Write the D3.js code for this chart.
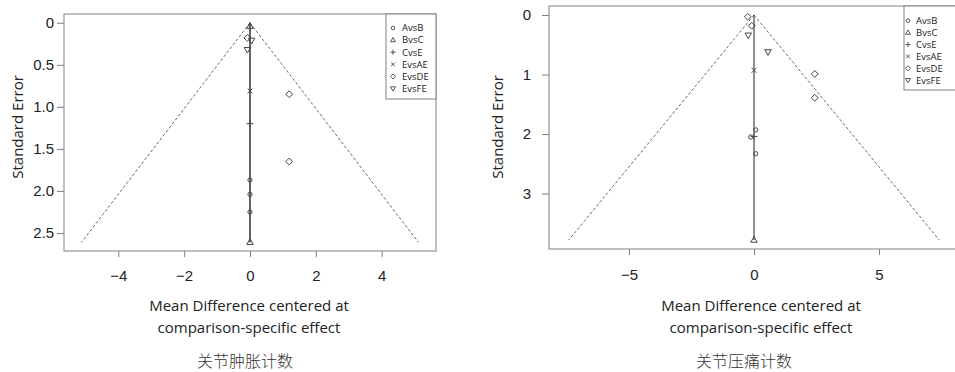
<!DOCTYPE html>
<html>
<head>
<meta charset="utf-8">
<script src="https://cdn.jsdelivr.net/npm/d3@7"></script>
<style>
  body { margin: 0; background: #fff; }
  svg { display: block; font-family: "Open Sans", "Noto Sans", sans-serif; }
</style>
</head>
<body>
<div id="chart"></div>
<script>
// comparisons shown in the legend, in order
const comparisons = ["AvsB", "BvsC", "CvsE", "EvsAE", "EvsDE", "EvsFE"];

// [comparison, centered mean difference, standard error]
const swellingPoints = [
  ["AvsB", 0, 1.87], ["AvsB", 0, 2.04], ["AvsB", 0, 2.25],
  ["BvsC", 0, 2.61], ["BvsC", 0, 0.04],
  ["CvsE", 0, 1.2],
  ["EvsAE", 0, 0.81],
  ["EvsDE", -0.08, 0.18], ["EvsDE", 1.19, 0.85], ["EvsDE", 1.19, 1.65],
  ["EvsFE", 0.05, 0.21], ["EvsFE", -0.08, 0.32]
];
const tendernessPoints = [
  ["AvsB", 0.07, 1.93], ["AvsB", -0.13, 2.05], ["AvsB", 0.07, 2.33],
  ["BvsC", 0, 3.78],
  ["CvsE", 0, 2.04],
  ["EvsAE", 0, 0.93],
  ["EvsDE", -0.25, 0.03], ["EvsDE", -0.09, 0.18], ["EvsDE", 2.43, 0.99], ["EvsDE", 2.43, 1.39],
  ["EvsFE", -0.23, 0.34], ["EvsFE", 0.56, 0.62]
];

const swellingXTicks = [-4, -2, 0, 2, 4];
const swellingYTicks = [0, 0.5, 1, 1.5, 2, 2.5];
const tendernessXTicks = [-5, 0, 5];
const tendernessYTicks = [0, 1, 2, 3];

const xLabel = ["Mean Difference centered at", "comparison-specific effect"];
const yLabel = "Standard Error";
const swellingTitle = "关节肿胀计数";
const tendernessTitle = "关节压痛计数";

const width = 955, height = 372;
const boxColor = "#808080", markColor = "#444", textColor = "#222";

const svg = d3.select("#chart").append("svg")
  .attr("width", width)
  .attr("height", height);

// pch-like marker paths
const shape = (type, r) => {
  const p = d3.path();
  if (type === "AvsB") {
    p.moveTo(r * 0.7, 0); p.arc(0, 0, r * 0.7, 0, 2 * Math.PI);
  } else if (type === "BvsC") {
    p.moveTo(0, -r); p.lineTo(r * 0.95, r * 0.65); p.lineTo(-r * 0.95, r * 0.65); p.closePath();
  } else if (type === "CvsE") {
    p.moveTo(-r, 0); p.lineTo(r, 0); p.moveTo(0, -r); p.lineTo(0, r);
  } else if (type === "EvsAE") {
    const s = r * 0.7;
    p.moveTo(-s, -s); p.lineTo(s, s); p.moveTo(-s, s); p.lineTo(s, -s);
  } else if (type === "EvsDE") {
    p.moveTo(0, -r); p.lineTo(r, 0); p.lineTo(0, r); p.lineTo(-r, 0); p.closePath();
  } else {
    p.moveTo(0, r); p.lineTo(r * 0.95, -r * 0.65); p.lineTo(-r * 0.95, -r * 0.65); p.closePath();
  }
  return p.toString();
};

const drawFunnel = (cfg, points, xTicks, yTicks, yFmt, title) => {
  const g = svg.append("g");
  const seMax = d3.max(points, (d) => d[2]);

  const x = d3.scaleLinear().domain(cfg.xDomain).range([cfg.left, cfg.right]);
  const y = d3.scaleLinear().domain([-0.04 * seMax, 1.04 * seMax]).range([cfg.top, cfg.bottom]);

  // frame
  g.append("rect")
    .attr("x", cfg.left).attr("y", cfg.top)
    .attr("width", cfg.right - cfg.left).attr("height", cfg.bottom - cfg.top)
    .attr("fill", "none").attr("stroke", boxColor).attr("stroke-width", 1);

  // funnel
  [-1.96, 1.96].forEach((z) => {
    g.append("line")
      .attr("x1", x(0)).attr("y1", y(0))
      .attr("x2", x(z * seMax)).attr("y2", y(seMax))
      .attr("stroke", "#444").attr("stroke-width", 0.8)
      .attr("stroke-dasharray", "3,2");
  });
  g.append("line")
    .attr("x1", x(0)).attr("y1", y(0))
    .attr("x2", x(0)).attr("y2", y(seMax))
    .attr("stroke", "#222").attr("stroke-width", cfg.lineW);

  // points
  g.selectAll(".pt")
    .data(points)
    .join("path")
    .attr("class", "pt")
    .attr("transform", (d) => `translate(${x(d[1])},${y(d[2])})`)
    .attr("d", (d) => shape(d[0], d[0] === "AvsB" ? 3 : 3.4))
    .attr("fill", "none")
    .attr("stroke", markColor)
    .attr("stroke-width", 1);

  // axes
  const xAxis = g.append("g")
    .attr("transform", `translate(0,${cfg.bottom})`)
    .call(d3.axisBottom(x).tickValues(xTicks).tickSize(6).tickPadding(cfg.xPad)
      .tickFormat((d) => d < 0 ? "\u2212" + Math.abs(d) : d));
  const yAxis = g.append("g")
    .attr("transform", `translate(${cfg.left},0)`)
    .call(d3.axisLeft(y).tickValues(yTicks).tickSize(7).tickPadding(cfg.yPad).tickFormat(yFmt));
  [xAxis, yAxis].forEach((a) => {
    a.select(".domain").remove();
    a.selectAll("line").attr("stroke", boxColor);
    a.selectAll("text").attr("fill", textColor).style("font-size", "15px");
  });

  // legend
  const leg = g.append("g").attr("transform", `translate(${cfg.legX},${cfg.legY})`);
  leg.append("rect")
    .attr("width", cfg.legW).attr("height", cfg.legH)
    .attr("fill", "#fff").attr("stroke", boxColor);
  const items = leg.selectAll(".item")
    .data(comparisons)
    .join("g")
    .attr("class", "item")
    .attr("transform", (d, i) => `translate(0,${cfg.legFirst + i * cfg.legStep})`);
  items.append("path")
    .attr("transform", `translate(${cfg.legSym},0)`)
    .attr("d", (d) => shape(d, 2.6))
    .attr("fill", "none").attr("stroke", markColor).attr("stroke-width", 0.9);
  items.append("text")
    .attr("x", cfg.legText).attr("dy", "0.35em")
    .style("font-size", "9.5px").attr("fill", textColor)
    .text((d) => d);

  // labels
  g.append("text")
    .attr("transform", `translate(${cfg.yLabX},127) rotate(-90)`)
    .attr("text-anchor", "middle").attr("dy", "0.35em")
    .style("font-size", "15px").attr("fill", textColor)
    .text(yLabel);
  g.selectAll(".xlab")
    .data(xLabel)
    .join("text")
    .attr("class", "xlab")
    .attr("x", cfg.xLabX).attr("y", (d, i) => 306 + i * 21.7)
    .attr("dy", "0.35em").attr("text-anchor", "middle")
    .style("font-size", "15px").attr("fill", textColor)
    .text((d) => d);
  g.append("text")
    .attr("x", cfg.titleX).attr("y", 361).attr("dy", "0.35em")
    .attr("text-anchor", "middle")
    .style("font-family", "'Noto Sans CJK SC', sans-serif")
    .style("font-size", "16px").style("font-weight", 300)
    .attr("fill", "#333")
    .text(title);
};

drawFunnel(
  { left: 64, right: 436, top: 14, bottom: 251, xDomain: [-5.65, 5.65], lineW: 1.4,
    xPad: 13, yPad: 3, legX: 386, legY: 14, legW: 50, legH: 85,
    legFirst: 14, legStep: 12.1, legSym: 7, legText: 16,
    yLabX: 17.5, xLabX: 249, titleX: 245 },
  swellingPoints, swellingXTicks, swellingYTicks,
  (d) => d === 0 ? "0" : d.toFixed(1), swellingTitle
);

drawFunnel(
  { left: 549, right: 959, top: 6, bottom: 249, xDomain: [-8.2, 8.2], lineW: 1,
    xPad: 14, yPad: 11, legX: 904, legY: 6, legW: 60, legH: 84,
    legFirst: 14.7, legStep: 11.9, legSym: 4, legText: 12,
    yLabX: 497.5, xLabX: 761, titleX: 744 },
  tendernessPoints, tendernessXTicks, tendernessYTicks,
  (d) => d, tendernessTitle
);
</script>
</body>
</html>
